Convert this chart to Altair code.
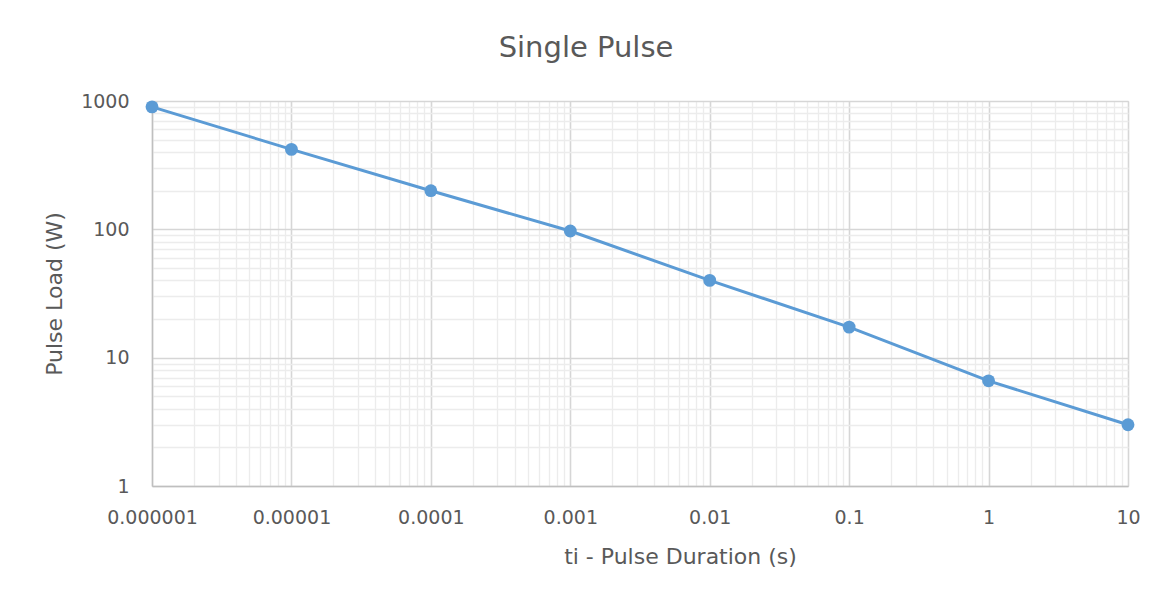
import altair as alt
import pandas as pd

# Data
duration_s = [1e-6, 1e-5, 1e-4, 1e-3, 1e-2, 0.1, 1, 10]
pulse_load_w = [900, 420, 200, 97, 40, 17.3, 6.6, 3.0]

# Log-axis tick positions (majors at each decade plus minor 2..9)
x_ticks = [m * 10.0 ** e for e in range(-6, 1) for m in range(1, 10)] + [10.0]
y_ticks = [m * 10.0 ** e for e in range(0, 3) for m in range(1, 10)] + [1000.0]

df = pd.DataFrame({"t": duration_s, "p": pulse_load_w})

is_major = "abs(log(datum.value)/LN10 - round(log(datum.value)/LN10)) < 0.001"
label_expr = is_major + " ? format(datum.value, '~f') : ''"
grid_color = {"condition": {"test": is_major, "value": "#d6d6d6"}, "value": "#ececec"}
grid_width = {"condition": {"test": is_major, "value": 1.6}, "value": 1.3}

FONT = "DejaVu Sans"
TXT = "#595959"
BLUE = "#5b9bd5"

x_enc = alt.X(
    "t:Q",
    scale=alt.Scale(type="log", domain=[1e-6, 10], nice=False),
    axis=alt.Axis(
        values=x_ticks,
        labelExpr=label_expr,
        gridColor=grid_color,
        gridWidth=grid_width,
        ticks=False,
        domainColor="#bfbfbf",
        domainWidth=1.4,
        labelFont=FONT,
        labelFontSize=19,
        labelColor=TXT,
        labelPadding=22,
        labelOverlap=False,
        labelFlush=False,
        title="ti - Pulse Duration (s)",
        titleFont=FONT,
        titleFontSize=22,
        titleFontWeight="normal",
        titleColor=TXT,
        titlePadding=19,
        titleX=528,
    ),
)
y_enc = alt.Y(
    "p:Q",
    scale=alt.Scale(type="log", domain=[1, 1000], nice=False),
    axis=alt.Axis(
        values=y_ticks,
        labelExpr=label_expr,
        gridColor=grid_color,
        gridWidth=grid_width,
        ticks=False,
        domainColor="#bfbfbf",
        domainWidth=1.4,
        labelFont=FONT,
        labelFontSize=19,
        labelColor=TXT,
        labelPadding=23,
        labelOverlap=False,
        title="Pulse Load (W)",
        titleFont=FONT,
        titleFontSize=22,
        titleFontWeight="normal",
        titleColor=TXT,
        titlePadding=14,
    ),
)

base = alt.Chart(df).encode(x=x_enc, y=y_enc)
line = base.mark_line(color=BLUE, strokeWidth=3)
pts = base.mark_circle(color=BLUE, size=165, opacity=1)

chart = (
    alt.layer(line, pts)
    .properties(
        width=976,
        height=385,
        title=alt.TitleParams(
            "Single Pulse",
            font=FONT,
            fontSize=29,
            fontWeight="normal",
            color=TXT,
            anchor="middle",
            dx=-54,
            offset=29,
        ),
        autosize=alt.AutoSizeParams(type="none"),
        padding={"left": 144, "top": 93, "right": 24, "bottom": 90},
    )
    .configure_view(stroke=None)
    .configure(background="white")
)

chart.save("out.html", embed_options={"renderer": "svg", "actions": False})
